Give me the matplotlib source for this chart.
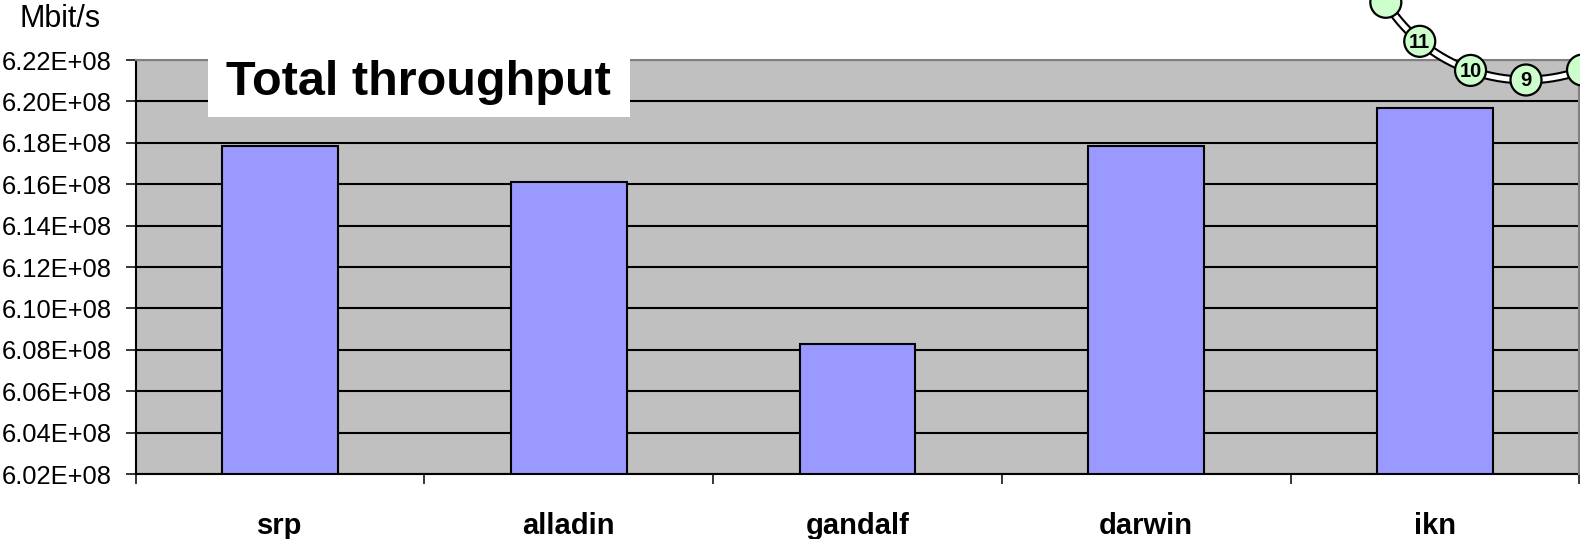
import numpy as np
import matplotlib
matplotlib.use("Agg")
import matplotlib.pyplot as plt
from matplotlib.patches import Circle, Rectangle
from matplotlib.ticker import FixedLocator, FuncFormatter

# ---- data ----
categories = ["srp", "alladin", "gandalf", "darwin", "ikn"]
throughput = [6.1786e8, 6.1610e8, 6.0829e8, 6.1786e8, 6.1970e8]
y_ticks = [6.02e8, 6.04e8, 6.06e8, 6.08e8, 6.10e8, 6.12e8, 6.14e8,
           6.16e8, 6.18e8, 6.20e8, 6.22e8]
title_text = "Total throughput"
y_unit = "Mbit/s"
node_labels = ["", "", "9", "10", "11", ""]

plt.rcParams['font.family'] = ['Liberation Sans', 'DejaVu Sans']

W, H = 1580, 539
fig = plt.figure(figsize=(W / 100, H / 100), dpi=100)
ax = fig.add_axes([135.7 / W, 65 / H, (1579.3 - 135.7) / W, (474 - 60) / H])

ax.set_facecolor('#C0C0C0')
x = np.arange(len(categories))
ax.bar(x, throughput, width=0.4, color='#9999FF', edgecolor='black',
       linewidth=1.5, zorder=2)
ax.set_xlim(-0.5, len(categories) - 0.5)
ax.set_ylim(y_ticks[0], y_ticks[-1])

ax.set_yticks(y_ticks)
ax.yaxis.set_major_formatter(FuncFormatter(lambda v, p: "{:.2E}".format(v)))
ax.yaxis.grid(True, color='black', linewidth=1.5, zorder=0.5)
ax.set_axisbelow(True)
ax.tick_params(axis='y', length=7.2, width=1.1, pad=10, labelsize=18.4,
               direction='out')

ax.set_xticks(x)
ax.set_xticklabels(categories, fontsize=21, fontweight='bold')
ax.tick_params(axis='x', which='major', length=0, pad=27)
ax.xaxis.set_minor_locator(FixedLocator(np.arange(-0.5, len(categories), 1.0)))
ax.tick_params(axis='x', which='minor', length=7, width=1.1, direction='out')

for s in ['left', 'bottom']:
    ax.spines[s].set_color('black')
    ax.spines[s].set_linewidth(1.5)
for s in ['top', 'right']:
    ax.spines[s].set_color('#808080')
    ax.spines[s].set_linewidth(1.5)
    ax.spines[s].set_zorder(3)

# ---- overlay in pixel coordinates for decorations ----
ov = fig.add_axes([0, 0, 1, 1], zorder=10)
ov.set_xlim(0, W)
ov.set_ylim(H, 0)
ov.axis('off')
ov.patch.set_alpha(0)

ov.text(20, 27, y_unit, fontsize=22, ha='left', va='baseline')

ov.add_patch(Rectangle((208, 38), 422, 79, facecolor='white', edgecolor='none'))
ov.text(418, 95, title_text, fontsize=35, fontweight='bold',
        ha='center', va='baseline')

# chain of numbered nodes (top right decoration)
cx, cy, r = 1526, -85.3, 165.3
angs = np.deg2rad(np.array([-40, -20, 0, 19.6, 40, 58]))
t = np.linspace(np.deg2rad(-60), np.deg2rad(80), 200)
ax_arc = cx - r * np.sin(t)
ay_arc = cy + r * np.cos(t)
ov.plot(ax_arc, ay_arc, color='black', lw=6.5, solid_capstyle='butt', clip_on=False)
ov.plot(ax_arc, ay_arc, color='white', lw=3.5, solid_capstyle='butt', clip_on=False)
for a, lab in zip(angs, node_labels):
    px = cx - r * np.sin(a)
    py = cy + r * np.cos(a)
    ov.add_patch(Circle((px, py), 15.5, facecolor='#CCFFCC', edgecolor='black',
                        linewidth=1.6, clip_on=False, zorder=3))
    if lab:
        ov.text(px, py + 1, lab, fontsize=14.5, fontweight='bold', ha='center',
                va='center', zorder=4)

fig.savefig('out.png', dpi=100)
